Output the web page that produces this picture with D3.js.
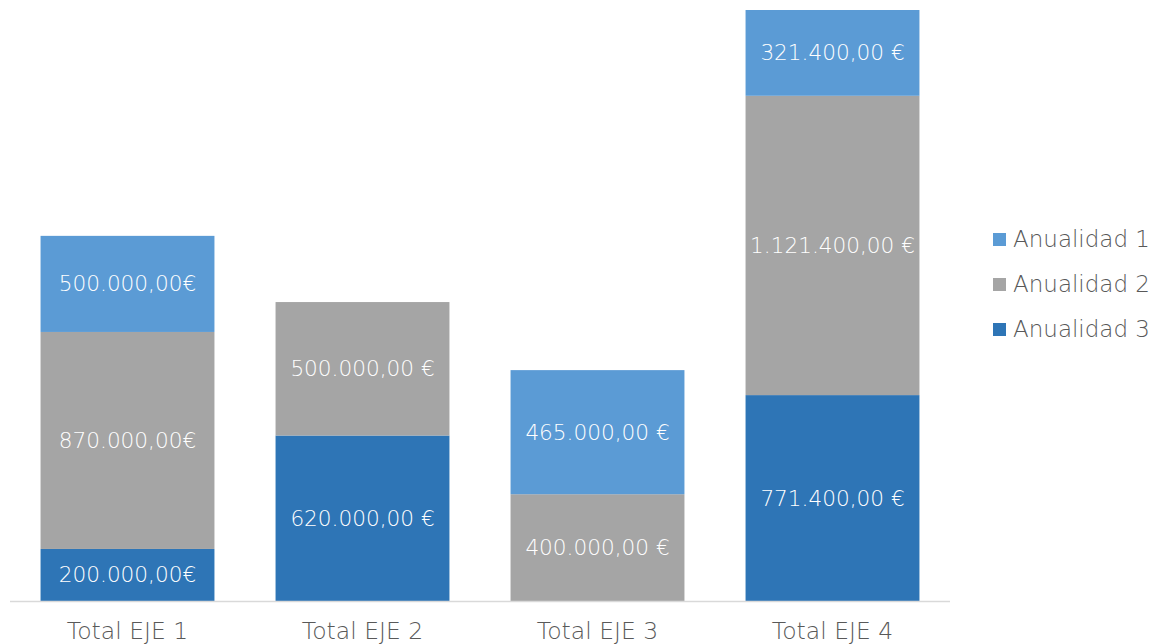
<!DOCTYPE html>
<html><head><meta charset="utf-8">
<script src="https://cdn.jsdelivr.net/npm/d3@7"></script>
<style>body{margin:0;background:#fff}svg{display:block}text{font-family:"DejaVu Sans",sans-serif}</style>
</head><body><svg id="c" width="1164" height="644"></svg>
<script>
const categories = ["Total EJE 1","Total EJE 2","Total EJE 3","Total EJE 4"];
const seriesNames = ["Anualidad 1","Anualidad 2","Anualidad 3"];
// values per series (bar heights), 0 = no segment
const anualidad1 = [360000, 0, 465000, 321400];
const anualidad2 = [813000, 500000, 400000, 1121400];
const anualidad3 = [195000, 620000, 0, 771400];
// data label texts as shown
const labels1 = ["500.000,00€", null, "465.000,00 €", "321.400,00 €"];
const labels2 = ["870.000,00€", "500.000,00 €", "400.000,00 €", "1.121.400,00 €"];
const labels3 = ["200.000,00€", "620.000,00 €", null, "771.400,00 €"];
const colors = {"Anualidad 1":"#5B9BD5","Anualidad 2":"#A5A5A5","Anualidad 3":"#2E75B6"};

const rows = categories.map((c,i)=>({cat:c,"Anualidad 3":anualidad3[i],"Anualidad 2":anualidad2[i],"Anualidad 1":anualidad1[i]}));
const labelMap = {"Anualidad 1":labels1,"Anualidad 2":labels2,"Anualidad 3":labels3};
const stackKeys = ["Anualidad 3","Anualidad 2","Anualidad 1"];
const stacked = d3.stack().keys(stackKeys)(rows);

const svg = d3.select("#c");
const x = d3.scaleBand().domain(categories).range([10,950]).paddingInner(0.26).paddingOuter(0.13);
const y = d3.scaleLinear().domain([0, d3.max(rows,r=>r["Anualidad 1"]+r["Anualidad 2"]+r["Anualidad 3"])]).range([601,10]);

const g = svg.append("g");
stacked.forEach(s=>{
  s.forEach((d,i)=>{
    if (d[1]-d[0] <= 0) return;
    g.append("rect").attr("x",x(categories[i])).attr("width",x.bandwidth())
      .attr("y",y(d[1])).attr("height",y(d[0])-y(d[1])).attr("fill",colors[s.key]);
    const lab = labelMap[s.key][i];
    if (lab) g.append("text").attr("x",x(categories[i])+x.bandwidth()/2).attr("y",(y(d[0])+y(d[1]))/2)
      .attr("text-anchor","middle").attr("dominant-baseline","central")
      .attr("fill","#fff").attr("font-size",21.6).attr("font-weight",300).text(lab);
  });
});

svg.append("line").attr("x1",10).attr("x2",950).attr("y1",601.5).attr("y2",601.5).attr("stroke","#D9D9D9").attr("stroke-width",1.5);

const xa = svg.append("g").attr("transform","translate(0,601)").call(d3.axisBottom(x).tickSize(0).tickPadding(0));
xa.select(".domain").remove();
xa.selectAll("text").attr("dy",null).attr("y",38).attr("font-size",23.5).attr("font-weight",300).attr("fill","#595959").attr("font-family","'DejaVu Sans',sans-serif");

const leg = svg.append("g");
seriesNames.forEach((n,i)=>{
  const base = 247 + i*45;
  leg.append("rect").attr("x",993).attr("y",base-14).attr("width",13).attr("height",13).attr("fill",colors[n]);
  leg.append("text").attr("x",1013).attr("y",base).attr("font-size",23).attr("font-weight",300).attr("fill","#595959").text(n);
});
</script></body></html>
